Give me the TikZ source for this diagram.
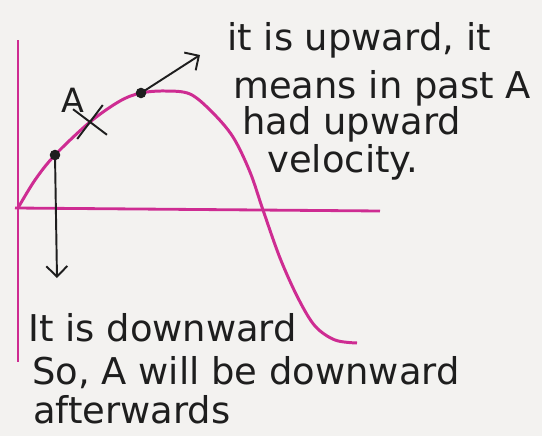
\documentclass[tikz,border=0pt]{standalone}
\usepackage{fontspec}
\setmainfont{DejaVu Sans}
\usetikzlibrary{arrows.meta, positioning, shapes.misc}

\definecolor{curvepink}{RGB}{206,44,146}
\definecolor{paper}{RGB}{243,242,240}
\definecolor{ink}{RGB}{30,30,30}

\tikzset{
  dot/.style={circle, fill=ink, inner sep=0pt, minimum size=6pt},
  note/.style={anchor=west, inner sep=0pt, text=ink,
               font=\fontsize{21}{24}\selectfont},
  vec/.style={draw=ink, line width=1.1pt,
              -{Straight Barb[length=6pt, width=12pt]}},
  axis/.style={draw=curvepink, line width=1.6pt}
}

\begin{document}
\begin{tikzpicture}[x=0.02cm, y=-0.02cm]
    \fill[paper] (0,0) rectangle (542,436);
    \useasboundingbox (0,0) rectangle (542,436);

    % axes
    \coordinate (O) at (18,208);
    \coordinate (ytop) at (18,40);
    \coordinate (ybot) at (18,362);
    \coordinate (xend) at (380,211);
    \draw[axis] (ytop) -- (ybot);
    \draw[axis] (15,208) -- (xend);

    % displacement curve
    \draw[curvepink, line width=1.7pt] plot[smooth, tension=0.55] coordinates
        {(18,208) (35,180) (55,155) (90,122) (120,101) (141,93) (165,91)
         (190,94) (212,112) (233,137) (250,172) (263,210) (280,258)
         (298,298) (315,326) (335,340) (357,343)};

    \node[dot] (pLow) at (55,155) {};
    \node[dot] (pHigh) at (141,93) {};
    \node[cross out, draw=ink, line width=1.1pt, minimum size=16pt,
          inner sep=0pt, rotate=8] (ptA) at (90,122) {};
    \node[note, font=\fontsize{19}{22}\selectfont] (labA) at (61,100) {A};

    % velocity arrows
    \coordinate (tipUp) at (200,55);
    \coordinate (tipDown) at (57,278);
    \draw[vec] (pHigh.center) -- (tipUp);
    \draw[vec] (pLow.center) -- (tipDown);

    % notes
    \node[note] (up1) at (227,40) {it is upward, it};
    \node[note] (up2) at (233,88) {means in past A};
    \node[note] (up3) at (242,124) {had upward};
    \node[note] (up4) at (267,162) {velocity.};

    \node[note] (dn1) at (28,328) {It is downward};
    \node[note] (dn2) at (32,373) {So, A will be downward};
    \node[note] (dn3) at (33,410) {afterwards};
\end{tikzpicture}
\end{document}
